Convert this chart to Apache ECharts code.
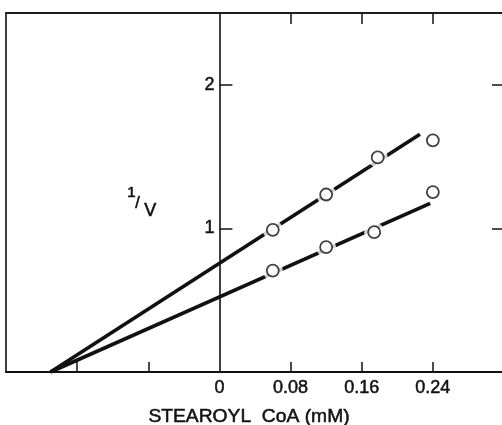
<!DOCTYPE html>
<html><head><meta charset="utf-8">
<script src="https://cdn.jsdelivr.net/npm/echarts@6/dist/echarts.min.js"></script>
<style>html,body{margin:0;padding:0;background:#fff}#c{width:502px;height:425px}</style>
</head><body><div id="c"></div>
<script>
// Data
const upperX = [0.06, 0.12, 0.178, 0.24];
const upperY = [0.99, 1.236, 1.494, 1.613];
const lowerX = [0.06, 0.12, 0.174, 0.24];
const lowerY = [0.706, 0.869, 0.974, 1.253];
const upperFitX = [-0.19, 0.2255];
const upperFitY = [0, 1.655];
const lowerFitX = [-0.19, 0.237];
const lowerFitY = [0, 1.175];
const xTickLabels = [0, 0.08, 0.16, 0.24];
const xTicksBottom = [-0.16, -0.08, 0.08, 0.16, 0.24];
const xTicksTop = [0.08, 0.16, 0.24];
const yTickValues = [1, 2];

const ink = '#111';
const font = 'Liberation Sans';
const zip = (xs, ys) => xs.map((x, i) => [x, ys[i]]);

const X_MIN = -0.24, X_MAX = 0.32;
const G_LEFT = 6, G_RIGHT = -2;
const G_W = 502 - G_LEFT - G_RIGHT;
const zeroOffset = -((0 - X_MIN) / (X_MAX - X_MIN)) * G_W;

const labelStyle = {color: ink, fontFamily: font, fontSize: 18, textBorderColor: ink, textBorderWidth: 0.5};

const chart = echarts.init(document.getElementById('c'), null, {renderer: 'canvas'});
chart.setOption({
  animation: false,
  backgroundColor: '#fff',
  grid: {left: G_LEFT, right: G_RIGHT, top: 13, bottom: 53, containLabel: false, outerBoundsMode: 'none',
         show: true, borderColor: ink, borderWidth: 1.6, backgroundColor: 'transparent'},
  xAxis: [
    {type: 'value', position: 'bottom', min: X_MIN, max: X_MAX, interval: 0.08,
     axisLine: {show: true, onZero: false, lineStyle: {color: ink, width: 2}},
     axisTick: {show: true, inside: true, length: 10, customValues: xTicksBottom, lineStyle: {color: ink, width: 1.5}},
     axisLabel: Object.assign({show: true, customValues: xTickLabels, margin: 7}, labelStyle),
     splitLine: {show: false}},
    {type: 'value', position: 'top', min: X_MIN, max: X_MAX, interval: 0.08,
     axisLine: {show: true, onZero: false, lineStyle: {color: ink, width: 1.6}},
     axisTick: {show: true, inside: true, length: 11, customValues: xTicksTop, lineStyle: {color: ink, width: 1.5}},
     axisLabel: {show: false}, splitLine: {show: false}}
  ],
  yAxis: [
    {type: 'value', position: 'left', offset: zeroOffset, min: 0, max: 2.5, interval: 1,
     axisLine: {show: true, onZero: false, lineStyle: {color: ink, width: 1.6}},
     axisTick: {show: true, inside: true, length: 13, customValues: yTickValues, lineStyle: {color: ink, width: 1.5}},
     axisLabel: Object.assign({show: true, margin: 5, customValues: yTickValues}, labelStyle),
     splitLine: {show: false}},
    {type: 'value', position: 'right', min: 0, max: 2.5, interval: 1,
     axisLine: {show: false, onZero: false},
     axisTick: {show: true, inside: true, length: 12, customValues: yTickValues, lineStyle: {color: ink, width: 1.5}},
     axisLabel: {show: false}, splitLine: {show: false}}
  ],
  series: [
    {type: 'line', data: zip(upperFitX, upperFitY), showSymbol: false, symbol: 'none', z: 2,
     lineStyle: {color: ink, width: 3.6}},
    {type: 'line', data: zip(lowerFitX, lowerFitY), showSymbol: false, symbol: 'none', z: 2,
     lineStyle: {color: ink, width: 3.6}},
    {type: 'scatter', data: zip(upperX, upperY), symbol: 'circle', symbolSize: 20, z: 3,
     itemStyle: {color: '#fff', borderWidth: 0}, silent: true},
    {type: 'scatter', data: zip(lowerX, lowerY), symbol: 'circle', symbolSize: 20, z: 3,
     itemStyle: {color: '#fff', borderWidth: 0}, silent: true},
    {type: 'scatter', data: zip(upperX, upperY), symbol: 'circle', symbolSize: 12, z: 4,
     itemStyle: {color: '#fff', borderColor: ink, borderWidth: 1.8}},
    {type: 'scatter', data: zip(lowerX, lowerY), symbol: 'circle', symbolSize: 12, z: 4,
     itemStyle: {color: '#fff', borderColor: ink, borderWidth: 1.8}}
  ],
  graphic: [
    {type: 'text', left: 127, top: 185, style: {text: '1', fill: ink, stroke: ink, lineWidth: 0.6, font: '15px "Liberation Sans"'}},
    {type: 'text', left: 135, top: 195, style: {text: '/', fill: ink, stroke: ink, lineWidth: 0.6, font: '16px "Liberation Sans"'}},
    {type: 'text', left: 144, top: 202, style: {text: 'V', fill: ink, stroke: ink, lineWidth: 0.6, font: '18px "Liberation Sans"'}},
    {type: 'text', x: 249, y: 417, scaleX: 1.07, style: {text: 'STEAROYL  CoA (mM)', fill: ink, stroke: ink, lineWidth: 0.5, font: '18px "Liberation Sans"', align: 'center', verticalAlign: 'middle'}}
  ]
});
</script></body></html>
